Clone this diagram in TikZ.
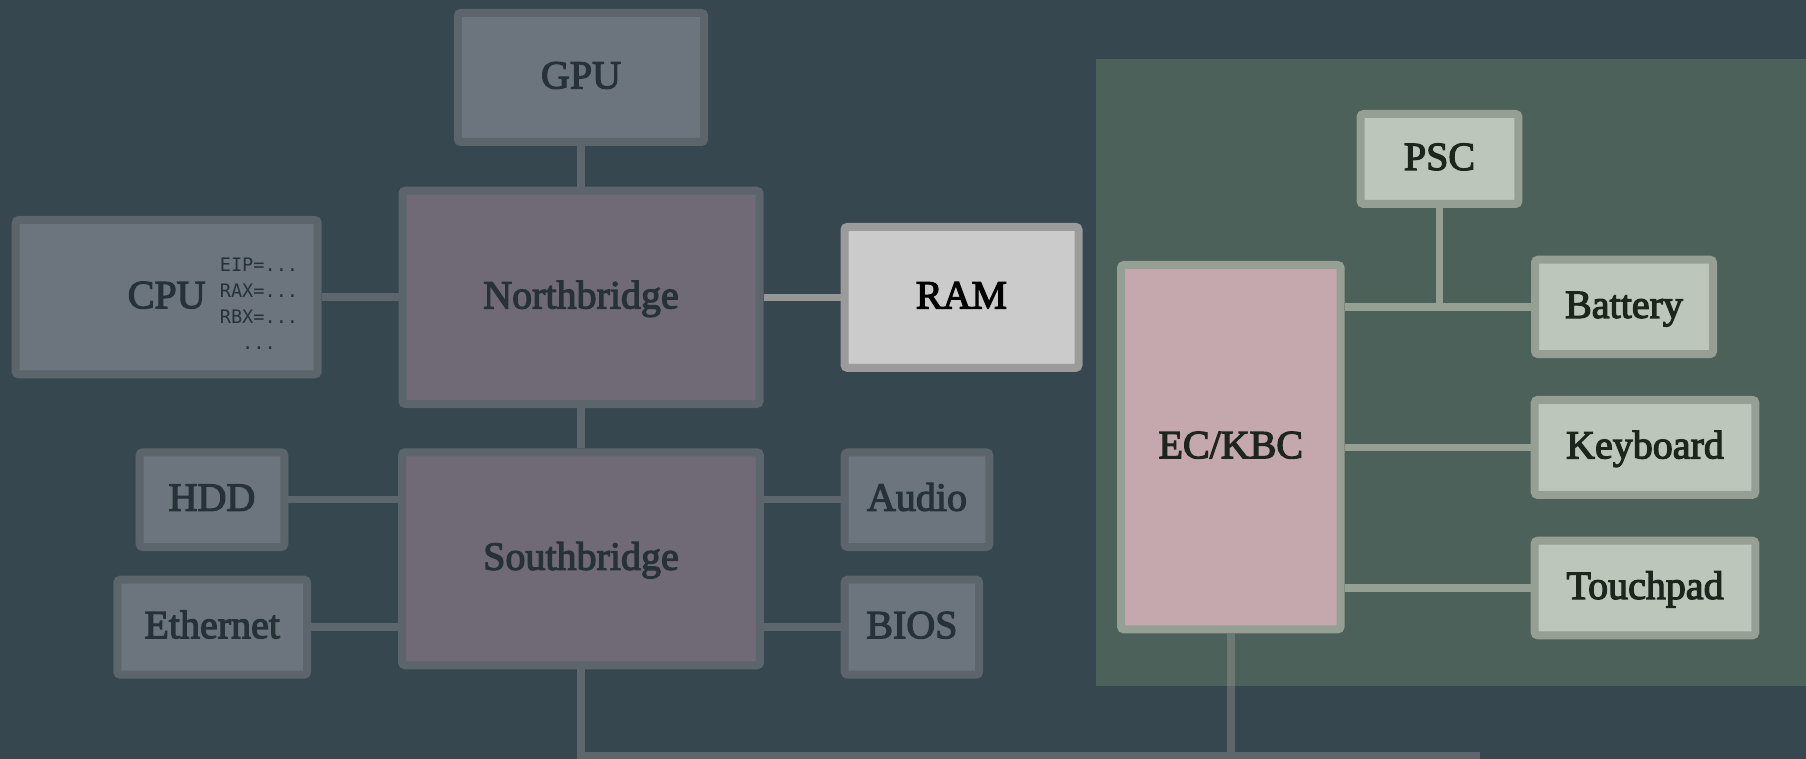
\documentclass[tikz,border=0pt]{standalone}
\usepackage{fontspec}
\setmainfont{Liberation Serif}
\newfontfamily\lblfont{Liberation Serif}[FakeBold=3]
\newfontfamily\regfont{DejaVu Sans Mono}
\definecolor{bgc}{HTML}{37474F}
\definecolor{greenreg}{HTML}{4B6159}
\definecolor{greyfill}{HTML}{6C757D}
\definecolor{bord}{HTML}{5B656B}
\definecolor{chipfill}{HTML}{6F6A76}
\definecolor{ramfill}{HTML}{CBCBCB}
\definecolor{rambord}{HTML}{9B9B9B}
\definecolor{wirec}{HTML}{5C666C}
\definecolor{ramwire}{HTML}{979797}
\definecolor{gfill}{HTML}{BDC6BA}
\definecolor{gbord}{HTML}{969F94}
\definecolor{ecfill}{HTML}{C5A8AD}
\definecolor{txtdark}{HTML}{263238}
\definecolor{gtxt}{HTML}{1C261C}
\definecolor{ecline}{HTML}{6A7A72}
\begin{document}
\begin{tikzpicture}[x=0.5pt,y=-0.5pt,
  box/.style={draw=bord, line width=4pt, rounded corners=1.5pt, inner sep=0pt,
    font=\lblfont\fontsize{20}{24}\selectfont, text=txtdark,
    text height=13pt, text depth=2pt},
  greybox/.style={box, fill=greyfill},
  chipbox/.style={box, fill=chipfill},
  rambox/.style={box, fill=ramfill, draw=rambord, text=black},
  gbox/.style={box, fill=gfill, draw=gbord, text=gtxt},
  ecbox/.style={box, fill=ecfill, draw=gbord, text=gtxt},
  wire/.style={line width=3.75pt, draw=wirec},
  gwire/.style={line width=3.75pt, draw=gbord},
  regtext/.style={font=\regfont\fontsize{9.3}{13}\selectfont, text=txtdark, align=center, inner sep=0pt}
]
\fill[bgc] (0,0) rectangle (1806,759);
\useasboundingbox (0,0) rectangle (1806,759);
\fill[greenreg] (1096,59.5) rectangle (1806,685.5);
\coordinate (gb) at (1096,685.5);
\coordinate (busR) at (1480,756);

% left side nodes
\node[greybox, minimum width=123.2pt, minimum height=64.5pt] (GPU) at (581,77.5) {GPU};
\node[chipbox, minimum width=178.5pt, minimum height=106.7pt] (NB) at (581,297.4) {Northbridge};
\node[greybox, minimum width=151pt, minimum height=77.2pt] (CPU) at (166.7,297.2) {CPU};
\node[regtext] (regs) at (259,304) {EIP=...\\RAX=...\\RBX=...\\...};
\node[rambox, minimum width=117pt, minimum height=70.5pt] (RAM) at (961.5,297.4) {RAM};
\node[greybox, minimum width=72.3pt, minimum height=47.3pt] (HDD) at (212,499.7) {HDD};
\node[greybox, minimum width=94.8pt, minimum height=47.5pt] (Eth) at (212.2,627.2) {Ethernet};
\node[chipbox, minimum width=178.9pt, minimum height=106.5pt] (SB) at (581,558.8) {Southbridge};
\node[greybox, minimum width=72.3pt, minimum height=47.3pt] (Audio) at (917,499.7) {Audio};
\node[greybox, minimum width=67.2pt, minimum height=47.5pt] (BIOS) at (911.9,627.2) {BIOS};

% right side nodes
\node[gbox, minimum width=78.9pt, minimum height=45pt] (PSC) at (1439.5,159) {PSC};
\node[ecbox, minimum width=109.8pt, minimum height=182.2pt] (EC) at (1230.8,447.2) {EC/KBC};
\node[gbox, minimum width=89pt, minimum height=47.2pt] (Bat) at (1624,306.9) {Battery};
\node[gbox, minimum width=110.3pt, minimum height=47.5pt] (Key) at (1645,447.4) {Keyboard};
\node[gbox, minimum width=110.3pt, minimum height=47.3pt] (Touch) at (1645,588) {Touchpad};

% connectors left
\draw[wire] (GPU.south) -- (GPU.south |- NB.north);
\draw[wire] (CPU.east) -- (CPU.east -| NB.west);
\draw[line width=3.75pt, draw=ramwire] (NB.east) -- (NB.east -| RAM.west);
\draw[wire] (NB.south) -- (NB.south |- SB.north);
\draw[wire] (HDD.east) -- (HDD.east -| SB.west);
\draw[wire] (Eth.east) -- (Eth.east -| SB.west);
\draw[wire] (Audio.west -| SB.east) -- (Audio.west);
\draw[wire] (BIOS.west -| SB.east) -- (BIOS.west);
\draw[wire] (SB.south) |- (busR);

% connectors right
\draw[gwire] (EC.east |- Bat.west) -- (Bat.west);
\draw[gwire] (PSC.south) -- (PSC.south |- Bat.west);
\draw[gwire] (EC.east |- Key.west) -- (Key.west);
\draw[gwire] (EC.east |- Touch.west) -- (Touch.west);
\draw[line width=3.75pt, draw=ecline] (EC.south) -- (EC.south |- gb);
\draw[wire] (EC.south |- gb) -- (EC.south |- busR);
\end{tikzpicture}
\end{document}
